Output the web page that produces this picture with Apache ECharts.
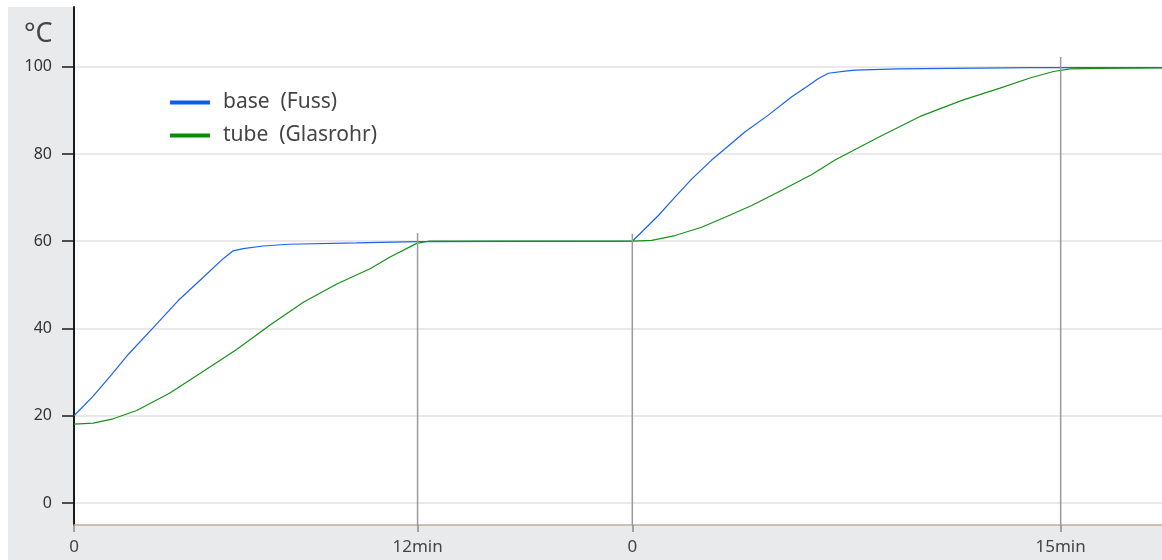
<!DOCTYPE html>
<html><head><meta charset="utf-8">
<script src="https://cdn.jsdelivr.net/npm/echarts@6/dist/echarts.min.js"></script>
<style>html,body{margin:0;padding:0;background:#fff}#c{width:1162px;height:560px}</style>
</head><body><div id="c"></div>
<script>
// x axis: continuous time in minutes; second heating starts at 19.5
const xTickValues = [0, 12, 19.5, 34.46];
const xTickLabels = ['0', '12min', '0', '15min'];
const yTickValues = [0, 20, 40, 60, 80, 100];
const seriesNames = ['base  (Fuss)', 'tube  (Glasrohr)'];

const baseTime = [0, 0.67, 1.32, 1.90, 2.77, 3.64, 4.46, 5.21, 5.56, 5.91, 6.61, 7.49, 9.87, 12, 19.5, 20.41, 20.99, 21.58, 22.27, 22.74, 23.44, 24.25, 25.07, 25.59, 26.0, 26.35, 26.93, 27.28, 28.78, 33.39, 38];
const baseTemp = [20.0, 24.5, 29.5, 34.1, 40.2, 46.4, 51.4, 56.0, 57.8, 58.3, 58.9, 59.3, 59.6, 59.9, 60.0, 65.9, 70.1, 74.3, 78.6, 81.2, 85.1, 88.9, 93.1, 95.4, 97.3, 98.5, 99.0, 99.2, 99.5, 99.8, 99.8];

const tubeTime = [0, 0.67, 1.37, 2.19, 3.35, 4.52, 5.68, 6.85, 8.01, 9.18, 10.34, 11.04, 11.97, 12.38, 19.5, 20.18, 20.99, 21.92, 22.74, 23.67, 24.72, 25.77, 26.58, 27.28, 28.15, 29.55, 31.06, 32.34, 33.39, 34.21, 34.79, 35.84, 38];
const tubeTemp = [18.1, 18.3, 19.3, 21.2, 25.2, 30.2, 35.2, 40.8, 46.0, 50.2, 53.7, 56.4, 59.5, 60.0, 60.0, 60.2, 61.3, 63.2, 65.5, 68.2, 71.7, 75.3, 78.6, 81.0, 84.0, 88.6, 92.4, 95.1, 97.4, 98.9, 99.5, 99.6, 99.7];

const markerTime = [12, 19.5, 34.46];
const markerTop = [61.9, 61.7, 102.2];

const Y_MIN = -5.04, Y_MAX = 113.68, X_MIN = 0, X_MAX = 38;
const FONT = 'Noto Sans';

const pairs = (t, v) => t.map((x, i) => [x, v[i]]);

const series = [
  { name: seriesNames[0], type: 'line', data: pairs(baseTime, baseTemp), showSymbol: false, smooth: false,
    lineStyle: { color: '#1a62ef', width: 1.2 }, itemStyle: { color: '#0d5cf0' }, z: 3 },
  { name: seriesNames[1], type: 'line', data: pairs(tubeTime, tubeTemp), showSymbol: false, smooth: false,
    lineStyle: { color: '#169216', width: 1.2 }, itemStyle: { color: '#0c8a0c' }, z: 4 }
];
markerTime.forEach((t, i) => {
  series.push({ type: 'line', data: [[t, Y_MIN], [t, markerTop[i]]], showSymbol: false, silent: true,
    lineStyle: { color: '#9a9a9a', width: 1.5 }, z: 5, legendHoverLink: false });
});

const chart = echarts.init(document.getElementById('c'), null, { renderer: 'canvas' });
chart.setOption({
  animation: false,
  backgroundColor: '#ffffff',
  textStyle: { fontFamily: FONT },
  graphic: [
    { type: 'rect', z: -10, shape: { x: 8, y: 7, width: 1154, height: 553 }, style: { fill: '#e9eaec' }, silent: true },
    { type: 'text', left: 24, top: 21, style: { text: '°C', font: '27px "Noto Sans"', fill: '#444' } }
  ],
  grid: { left: 74, right: 0, top: 7, bottom: 35, show: true, backgroundColor: '#ffffff', borderWidth: 0, containLabel: false },
  legend: {
    data: seriesNames, orient: 'vertical', left: 165, top: 87, icon: 'rect', itemWidth: 40, itemHeight: 4, itemGap: 12,
    textStyle: { fontSize: 21, color: '#444', fontFamily: FONT, padding: [0, 0, 0, 8] }
  },
  xAxis: {
    type: 'value', min: X_MIN, max: X_MAX,
    axisLine: { show: true, onZero: false, lineStyle: { color: '#bcae9e', width: 1.5 } },
    axisTick: { show: true, customValues: xTickValues, length: 7, lineStyle: { color: '#8a8a8a', width: 1.5 } },
    axisLabel: { customValues: xTickValues, margin: 14, fontSize: 17, color: '#444', fontFamily: FONT,
      formatter: (v) => { const i = xTickValues.findIndex(x => Math.abs(x - v) < 1e-6); return i >= 0 ? xTickLabels[i] : ''; } },
    splitLine: { show: false }
  },
  yAxis: {
    type: 'value', min: Y_MIN, max: Y_MAX,
    axisLine: { show: true, onZero: false, lineStyle: { color: '#1a1a1a', width: 2 } },
    axisTick: { show: true, customValues: yTickValues, length: 12, lineStyle: { color: '#1a1a1a', width: 1.5 } },
    axisLabel: { customValues: yTickValues, margin: 22, fontSize: 16, color: '#333', fontFamily: FONT },
    splitLine: { show: true, lineStyle: { color: '#e2e2e2', width: 1.5 } }
  },
  series: series
});
</script></body></html>
